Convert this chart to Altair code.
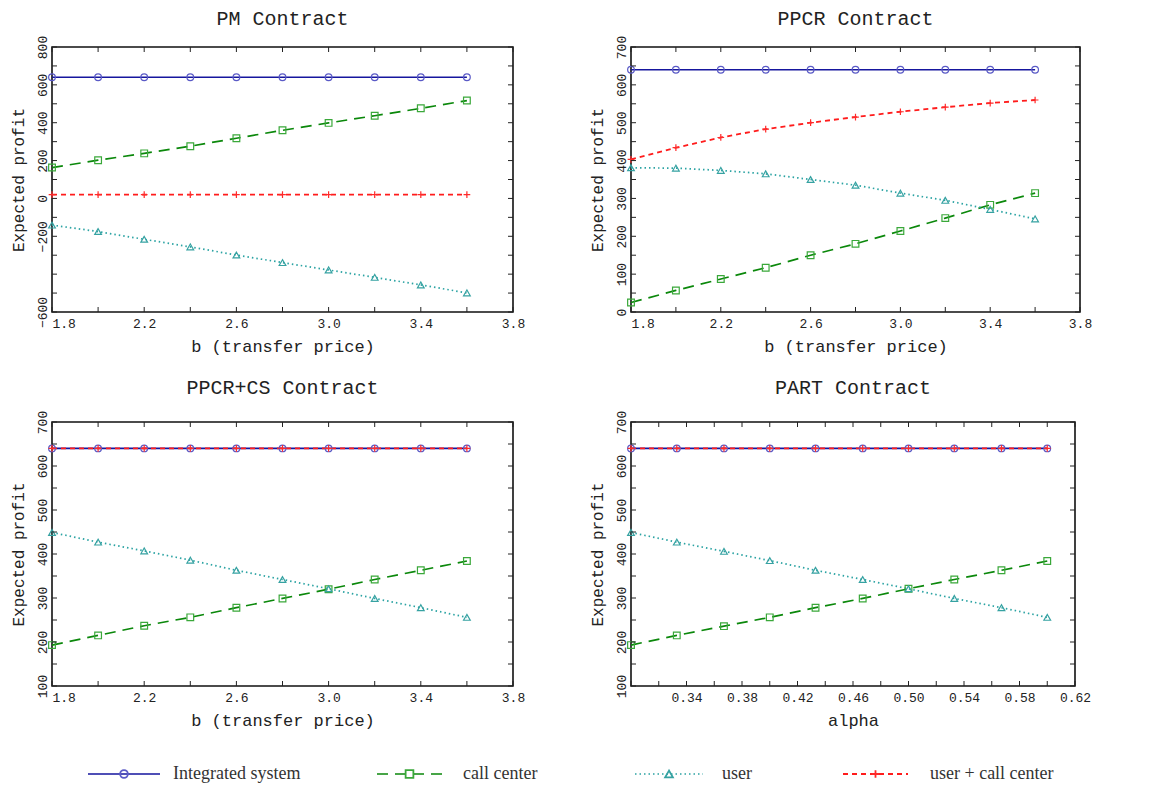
import altair as alt
import pandas as pd

# ---------------- data ----------------
SERIES = ["Integrated system", "call center", "user", "user + call center"]

B_PRICE = [1.8, 2.0, 2.2, 2.4, 2.6, 2.8, 3.0, 3.2, 3.4, 3.6]
ALPHA = [0.300, 0.333, 0.367, 0.400, 0.433, 0.467, 0.500, 0.533, 0.567, 0.600]

PM_INTEGRATED = [640, 640, 640, 640, 640, 640, 640, 640, 640, 640]
PM_CALL = [163, 202, 238, 276, 318, 360, 399, 437, 476, 517]
PM_USER = [-141, -175, -216, -256, -299, -339, -378, -417, -457, -499]
PM_SUM = [20, 20, 20, 20, 20, 20, 20, 20, 20, 20]

PPCR_INTEGRATED = [640, 640, 640, 640, 640, 640, 640, 640, 640, 640]
PPCR_CALL = [25, 57, 87, 117, 150, 180, 214, 248, 283, 314]
PPCR_USER = [381, 380, 374, 365, 350, 335, 314, 295, 271, 246]
PPCR_SUM = [403, 434, 461, 483, 500, 515, 529, 541, 552, 560]

CS_INTEGRATED = [640, 640, 640, 640, 640, 640, 640, 640, 640, 640]
CS_CALL = [193, 215, 237, 256, 278, 299, 320, 342, 363, 384]
CS_USER = [449, 427, 407, 386, 363, 342, 321, 299, 278, 256]
CS_SUM = [640, 640, 640, 640, 640, 640, 640, 640, 640, 640]

PART_INTEGRATED = [640, 640, 640, 640, 640, 640, 640, 640, 640, 640]
PART_CALL = [193, 215, 236, 256, 278, 299, 321, 342, 363, 384]
PART_USER = [449, 427, 406, 385, 363, 342, 321, 299, 278, 256]
PART_SUM = [640, 640, 640, 640, 640, 640, 640, 640, 640, 640]

# axis labels / ticks
B_LABELS = [1.8, 2.2, 2.6, 3.0, 3.4, 3.8]
B_TICKS = [1.8, 2.0, 2.2, 2.4, 2.6, 2.8, 3.0, 3.2, 3.4, 3.6, 3.8]
ALPHA_LABELS = [0.34, 0.38, 0.42, 0.46, 0.50, 0.54, 0.58, 0.62]
ALPHA_TICKS = [0.30, 0.32, 0.34, 0.36, 0.38, 0.40, 0.42, 0.44, 0.46, 0.48, 0.50,
               0.52, 0.54, 0.56, 0.58, 0.60, 0.62]
PM_YLABELS = [-600, -200, 0, 200, 400, 600, 800]
PM_YTICKS = [-600, -500, -400, -300, -200, -100, 0, 100, 200, 300, 400, 500, 600, 700, 800]
PPCR_YLABELS = [0, 100, 200, 300, 400, 500, 600, 700]
PPCR_YTICKS = [0, 50, 100, 150, 200, 250, 300, 350, 400, 450, 500, 550, 600, 650, 700]
CS_YLABELS = [100, 200, 300, 400, 500, 600, 700]
CS_YTICKS = [100, 150, 200, 250, 300, 350, 400, 450, 500, 550, 600, 650, 700]

# ---------------- style ----------------
LINE_COLORS = ["#16169e", "#0b880b", "#2ba3a3", "#ff1c1c"]
MARKER_COLORS = ["#5a5ac6", "#3aa83a", "#36a2a2", "#ff2a2a"]
DASHES = [[1, 0], [11, 7], [1.5, 3], [5, 4]]
WIDTHS = [1.6, 1.8, 1.6, 1.8]
SHAPES = ["circle", "square", "triangle-up", "M-1,0H1M0,-1V1"]
MONO = "Liberation Mono"
SERIF = "Liberation Serif"
TEXT = "#222222"
TL = 5  # inward tick length


def panel(title, xs, ys_list, xlabel, xdom, ydom, xlabels, ylabels, xticks, yticks,
          xfmt, width, height, title_offset):
    rows = []
    for name, ys in zip(SERIES, ys_list):
        for xv, yv in zip(xs, ys):
            rows.append({"x": xv, "y": yv, "series": name})
    df = pd.DataFrame(rows)
    xsc = alt.Scale(domain=xdom, nice=False, zero=False)
    ysc = alt.Scale(domain=ydom, nice=False, zero=False)
    xaxis = alt.Axis(
        title=xlabel, values=xlabels, format=xfmt, ticks=False, domain=False, grid=False,
        labelAlign={"condition": {"test": f"datum.value <= {xdom[0] + 1e-6}", "value": "left"},
                    "value": "center"},
        labelPadding=5, titlePadding=8, titleFontSize=17, labelFlush=False,
    )
    yaxis = alt.Axis(
        title="Expected profit", values=ylabels, ticks=False, domain=False, grid=False,
        labelAngle=270, labelPadding=3, titlePadding=10, labelFlush=False,
    )
    X = alt.X("x:Q", scale=xsc, axis=xaxis)
    Y = alt.Y("y:Q", scale=ysc, axis=yaxis)
    base = alt.Chart(df)
    lines = base.mark_line().encode(
        x=X, y=Y,
        color=alt.Color("series:N", scale=alt.Scale(domain=SERIES, range=LINE_COLORS), legend=None),
        strokeDash=alt.StrokeDash("series:N", scale=alt.Scale(domain=SERIES, range=DASHES), legend=None),
        strokeWidth=alt.StrokeWidth("series:N", scale=alt.Scale(domain=SERIES, range=WIDTHS), legend=None),
    )
    points = base.mark_point(filled=False, size=45, strokeWidth=1.2, opacity=1).encode(
        x=X, y=Y,
        stroke=alt.Stroke("series:N", scale=alt.Scale(domain=SERIES, range=MARKER_COLORS), legend=None),
        shape=alt.Shape("series:N", scale=alt.Scale(domain=SERIES, range=SHAPES), legend=None),
    )
    dx = pd.DataFrame({"x": xticks})
    dy = pd.DataFrame({"y": yticks})
    tx = alt.X("x:Q", scale=xsc, axis=xaxis)
    ty = alt.Y("y:Q", scale=ysc, axis=yaxis)
    top = alt.Chart(dx).mark_rule(color="#222", strokeWidth=1).encode(
        x=tx, y=alt.value(0), y2=alt.value(TL))
    bottom = alt.Chart(dx).mark_rule(color="#222", strokeWidth=1).encode(
        x=tx, y=alt.value(height), y2=alt.value(height - TL))
    left = alt.Chart(dy).mark_rule(color="#222", strokeWidth=1).encode(
        y=ty, x=alt.value(0), x2=alt.value(TL))
    right = alt.Chart(dy).mark_rule(color="#222", strokeWidth=1).encode(
        y=ty, x=alt.value(width), x2=alt.value(width - TL))
    return alt.layer(lines, points, top, bottom, left, right).properties(
        width=width, height=height,
        title=alt.TitleParams(text=title, font=MONO, fontSize=20, fontWeight="normal",
                              color=TEXT, offset=title_offset, anchor="middle"),
    )


p1 = panel("PM Contract", B_PRICE, [PM_INTEGRATED, PM_CALL, PM_USER, PM_SUM],
           "b (transfer price)", [1.8, 3.8], [-600, 800], B_LABELS, PM_YLABELS,
           B_TICKS, PM_YTICKS, ".1f", 461, 265, 6)
p2 = panel("PPCR Contract", B_PRICE, [PPCR_INTEGRATED, PPCR_CALL, PPCR_USER, PPCR_SUM],
           "b (transfer price)", [1.8, 3.8], [0, 700], B_LABELS, PPCR_YLABELS,
           B_TICKS, PPCR_YTICKS, ".1f", 449, 265, 6)
p3 = panel("PPCR+CS Contract", B_PRICE, [CS_INTEGRATED, CS_CALL, CS_USER, CS_SUM],
           "b (transfer price)", [1.8, 3.8], [100, 700], B_LABELS, CS_YLABELS,
           B_TICKS, CS_YTICKS, ".1f", 461, 264, 12)
p4 = panel("PART Contract", ALPHA, [PART_INTEGRATED, PART_CALL, PART_USER, PART_SUM],
           "alpha", [0.30, 0.62], [100, 700], ALPHA_LABELS, CS_YLABELS,
           ALPHA_TICKS, CS_YTICKS, ".2f", 444, 264, 12)

# ---------------- legend (own small chart) ----------------
LW = 1030
LH = 14
LEG_START = [36, 325, 583, 791]   # layout slots (px in legend chart)
LEG_SEG = [72, 65, 68, 65]
LEG_TEXT = [121, 411, 670, 878]
leg = pd.DataFrame({"series": SERIES})
leg["x0"] = LEG_START
leg["x1"] = [s + g for s, g in zip(LEG_START, LEG_SEG)]
leg["xm"] = [s + g / 2 for s, g in zip(LEG_START, LEG_SEG)]
leg["xt"] = LEG_TEXT
lsc = alt.Scale(domain=[0, LW], nice=False, zero=False)
lbase = alt.Chart(leg)
leg_lines = lbase.mark_rule().encode(
    x=alt.X("x0:Q", scale=lsc, axis=None), x2="x1:Q", y=alt.value(LH / 2),
    color=alt.Color("series:N", scale=alt.Scale(domain=SERIES, range=LINE_COLORS), legend=None),
    strokeDash=alt.StrokeDash("series:N", scale=alt.Scale(domain=SERIES, range=DASHES), legend=None),
    strokeWidth=alt.StrokeWidth("series:N", scale=alt.Scale(domain=SERIES, range=[2, 2.4, 1.6, 2.4]), legend=None),
)
leg_pts = lbase.mark_point(filled=False, size=60, strokeWidth=1.8, opacity=1).encode(
    x=alt.X("xm:Q", scale=lsc, axis=None), y=alt.value(LH / 2),
    stroke=alt.Stroke("series:N", scale=alt.Scale(domain=SERIES, range=LINE_COLORS), legend=None),
    shape=alt.Shape("series:N", scale=alt.Scale(domain=SERIES, range=SHAPES), legend=None),
)
leg_txt = lbase.mark_text(align="left", baseline="middle", font=SERIF, fontSize=18,
                          color="#333333").encode(
    x=alt.X("xt:Q", scale=lsc, axis=None), y=alt.value(LH / 2), text="series:N")
legend = alt.layer(leg_lines, leg_pts, leg_txt).properties(
    width=LW, height=LH, view=alt.ViewBackground(strokeWidth=0))

grid = alt.vconcat(
    alt.hconcat(p1, p2, spacing=62),
    alt.hconcat(p3, p4, spacing=62),
    spacing=22,
)
chart = alt.vconcat(grid, legend, spacing=36).properties(
    padding={"left": 1, "top": 0, "right": 0, "bottom": 0},
).configure_view(
    stroke="#111111", strokeWidth=1.6,
).configure_axis(
    labelFont=MONO, labelFontSize=13, labelColor=TEXT,
    titleFont=MONO, titleFontSize=16, titleFontWeight="normal", titleColor=TEXT,
)

chart.save("out.html", embed_options={"renderer": "svg", "actions": False})
